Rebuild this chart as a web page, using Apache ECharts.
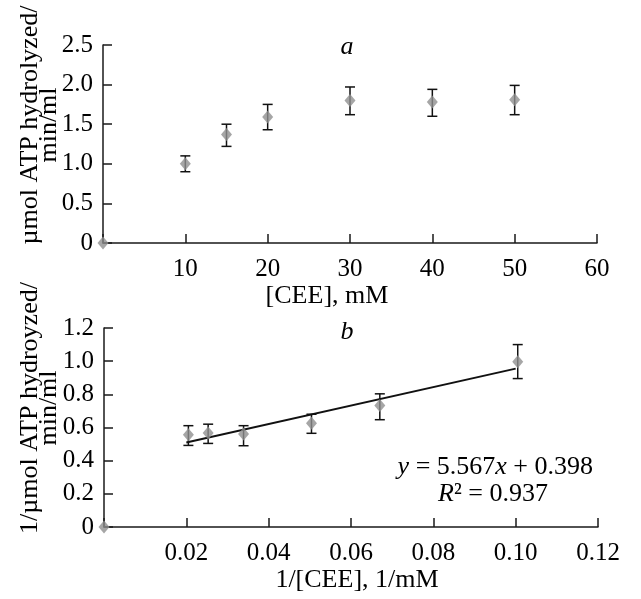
<!DOCTYPE html>
<html><head><meta charset="utf-8">
<script src="https://cdn.jsdelivr.net/npm/echarts@6/dist/echarts.min.js"></script>
<style>html,body{margin:0;padding:0;background:#fff}#c{width:641px;height:599px}</style>
</head><body><div id="c"></div>
<script>
// Panel a
const concA = [0, 10, 15, 20, 30, 40, 50];
const rateA = [0, 1.00, 1.37, 1.59, 1.80, 1.78, 1.81];
const errLowA = [null, 0.90, 1.22, 1.43, 1.62, 1.60, 1.62];
const errHighA = [null, 1.10, 1.50, 1.75, 1.97, 1.94, 1.99];
// Panel b
const invConcB = [0, 0.0205, 0.0253, 0.0339, 0.0504, 0.067, 0.1005];
const invRateB = [0, 0.557, 0.567, 0.561, 0.625, 0.732, 0.996];
const errLowB = [null, 0.492, 0.504, 0.490, 0.565, 0.647, 0.895];
const errHighB = [null, 0.611, 0.620, 0.611, 0.680, 0.803, 1.100];
const trendX = [0.02, 0.10];
const trendY = [0.509, 0.955];
const xTicksA = [0, 10, 20, 30, 40, 50, 60];
const yTicksA = [0, 0.5, 1.0, 1.5, 2.0, 2.5];
const xTicksB = [0, 0.02, 0.04, 0.06, 0.08, 0.10, 0.12];
const yTicksB = [0, 0.2, 0.4, 0.6, 0.8, 1.0, 1.2];

const FONT = 'Liberation Serif';
const FS = 25;
const TF = '26px "Liberation Serif"';
const AX = '#1a1a1a';
const MK = '#909090';

function pts(xs, ys){ return xs.map((x,i)=>[x, ys[i]]); }
function errs(xs, lo, hi){ const out=[]; xs.forEach((x,i)=>{ if(lo[i]!=null) out.push([x, lo[i], hi[i]]); }); return out; }

function errRender(params, api){
  const x=api.value(0), lo=api.value(1), hi=api.value(2);
  const p1=api.coord([x,hi]), p2=api.coord([x,lo]);
  const w=5;
  const st={stroke:'#111', lineWidth:1.5};
  return {type:'group', children:[
    {type:'line', shape:{x1:p1[0],y1:p1[1],x2:p2[0],y2:p2[1]}, style:st},
    {type:'line', shape:{x1:p1[0]-w,y1:p1[1],x2:p1[0]+w,y2:p1[1]}, style:st},
    {type:'line', shape:{x1:p2[0]-w,y1:p2[1],x2:p2[0]+w,y2:p2[1]}, style:st}
  ]};
}

function xAxisCfg(grid, ticks, decimals){
  return {
    type:'value', gridIndex:grid, min:ticks[0], max:ticks[ticks.length-1], interval:ticks[1]-ticks[0],
    axisLine:{show:true, onZero:false, lineStyle:{color:AX, width:1.5}},
    axisTick:{show:true, inside:true, length:9, lineStyle:{color:AX, width:1.5}},
    splitLine:{show:false},
    axisLabel:{color:'#000', fontFamily:FONT, fontSize:FS, margin:14,
      formatter:v=> v===0 ? '' : v.toFixed(decimals)}
  };
}
function yAxisCfg(grid, ticks){
  return {
    type:'value', gridIndex:grid, min:ticks[0], max:ticks[ticks.length-1], interval:ticks[1]-ticks[0],
    axisLine:{show:true, onZero:false, lineStyle:{color:AX, width:1.5}},
    axisTick:{show:true, inside:true, length:9, lineStyle:{color:AX, width:1.5}},
    splitLine:{show:false},
    axisLabel:{color:'#000', fontFamily:FONT, fontSize:FS, margin:10,
      formatter:v=> v===0 ? '0' : v.toFixed(1)}
  };
}

const chart = echarts.init(document.getElementById('c'), null, {renderer:'canvas'});
const rich = {i:{fontFamily:FONT, fontStyle:'italic', fontSize:26, fill:'#000'}, n:{fontFamily:FONT, fontSize:26, fill:'#000'}};
chart.setOption({
  animation:false,
  backgroundColor:'#fff',
  grid:[
    {left:103, right:44, top:45, height:198},
    {left:104, right:43, top:328, height:199}
  ],
  xAxis:[ xAxisCfg(0, xTicksA, 0), xAxisCfg(1, xTicksB, 2) ],
  yAxis:[ yAxisCfg(0, yTicksA), yAxisCfg(1, yTicksB) ],
  series:[
    {type:'custom', xAxisIndex:0, yAxisIndex:0, renderItem:errRender, data:errs(concA, errLowA, errHighA), encode:{x:0, y:[1,2]}, z:3, clip:false},
    {type:'scatter', xAxisIndex:0, yAxisIndex:0, data:pts(concA, rateA), symbol:'diamond', symbolSize:[11,13], itemStyle:{color:MK}, z:4, clip:false},
    {type:'custom', xAxisIndex:1, yAxisIndex:1, renderItem:errRender, data:errs(invConcB, errLowB, errHighB), encode:{x:0, y:[1,2]}, z:3, clip:false},
    {type:'line', xAxisIndex:1, yAxisIndex:1, data:pts(trendX, trendY), symbol:'none', lineStyle:{color:'#111', width:2}, z:2},
    {type:'scatter', xAxisIndex:1, yAxisIndex:1, data:pts(invConcB, invRateB), symbol:'diamond', symbolSize:[11,13], itemStyle:{color:MK}, z:4, clip:false}
  ],
  graphic:[
    {type:'text', x:347, y:47, style:{text:'a', font:'italic 26px "Liberation Serif"', fill:'#000', align:'center', verticalAlign:'middle'}},
    {type:'text', x:347, y:332, style:{text:'b', font:'italic 26px "Liberation Serif"', fill:'#000', align:'center', verticalAlign:'middle'}},
    {type:'text', x:327, y:296, style:{text:'[CEE], mM', font:TF, fill:'#000', align:'center', verticalAlign:'middle'}},
    {type:'text', x:357, y:580, style:{text:'1/[CEE], 1/mM', font:TF, fill:'#000', align:'center', verticalAlign:'middle'}},
    {type:'text', x:40, y:125, rotation:Math.PI/2, style:{text:'µmol ATP hydrolyzed/\nmin/ml', font:TF, lineHeight:19, fill:'#000', align:'center', verticalAlign:'middle'}},
    {type:'text', x:40, y:408, rotation:Math.PI/2, style:{text:'1/µmol ATP hydroyzed/\nmin/ml', font:TF, lineHeight:19, fill:'#000', align:'center', verticalAlign:'middle'}},
    {type:'text', x:593, y:467, style:{rich:rich, text:'{i|y}{n| = 5.567}{i|x}{n| + 0.398}', align:'right', verticalAlign:'middle'}},
    {type:'text', x:493, y:494, style:{rich:rich, text:'{i|R}{n|² = 0.937}', align:'center', verticalAlign:'middle'}}
  ]
});
</script></body></html>
